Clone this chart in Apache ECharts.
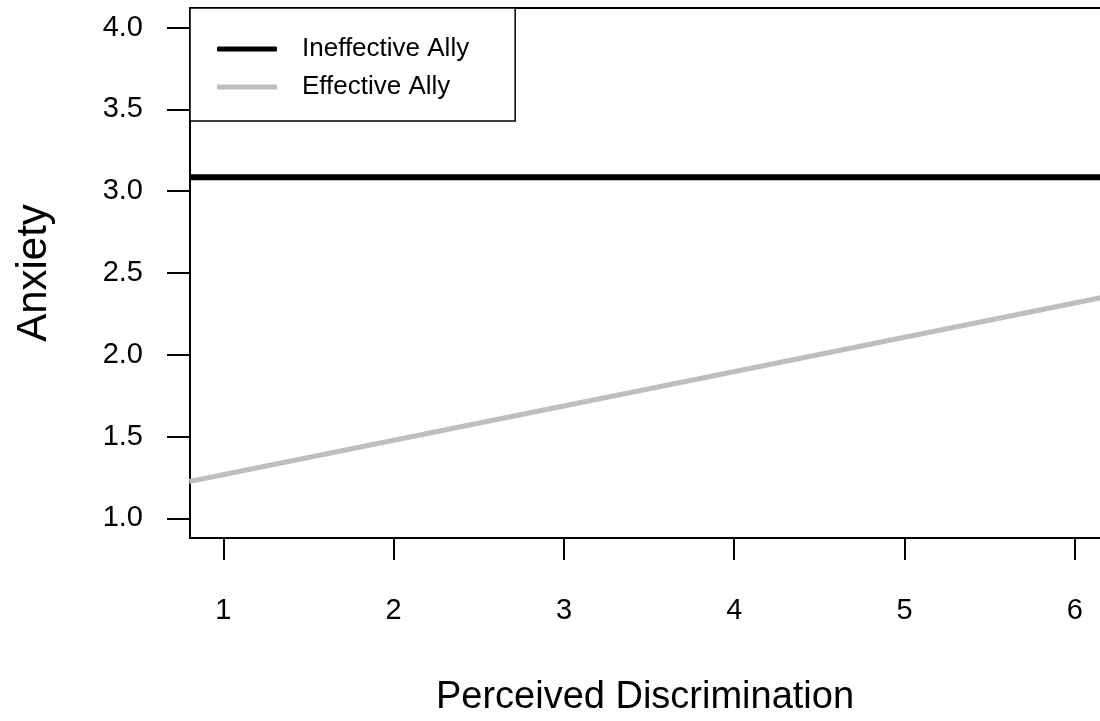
<!DOCTYPE html>
<html>
<head>
<meta charset="utf-8">
<script src="https://cdn.jsdelivr.net/npm/echarts@6/dist/echarts.min.js"></script>
<style>
  html, body { margin: 0; padding: 0; background: #fff; }
  #chart { width: 1100px; height: 721px; }
</style>
</head>
<body>
<div id="chart"></div>
<script>
// x 轴两端的取值（线条从左边框画到右边缘）
var xPoints = [0.8, 6.3];
var ineffectiveAlly = [3.085, 3.085];
var effectiveAlly = [1.225, 2.38];
var xTicks = [1, 2, 3, 4, 5, 6];
var yTicks = [1.0, 1.5, 2.0, 2.5, 3.0, 3.5, 4.0];

function pairUp(xs, ys) {
    var out = [];
    for (var i = 0; i < xs.length; i++) {
        out.push([xs[i], ys[i]]);
    }
    return out;
}

var myChart = echarts.init(document.getElementById('chart'));
var font = 'Liberation Sans, Arial, sans-serif';
var axisLineStyle = { color: '#000', width: 2 };

var option = {
    animation: false,
    backgroundColor: '#fff',
    grid: { left: 190, top: 8, bottom: 183, right: 0, show: false, outerBoundsMode: 'none' },
    legend: {
        orient: 'vertical',
        left: 190, top: 8,
        padding: [28, 46, 21, 27],
        borderColor: '#000', borderWidth: 1.5,
        backgroundColor: '#fff',
        itemWidth: 60, itemHeight: 5, itemGap: 12,
        icon: 'roundRect',
        textStyle: { fontFamily: font, fontSize: 26, lineHeight: 25, color: '#000', padding: [0, 0, 0, 20] },
        data: [
            { name: 'Ineffective Ally', itemStyle: { color: '#000' } },
            { name: 'Effective Ally', itemStyle: { color: '#bebebe' } }
        ]
    },
    xAxis: [
        {
            type: 'value',
            min: 0.804,
            max: 1 + (1100 - 223.3) / 170.3,
            name: 'Perceived Discrimination',
            nameLocation: 'middle',
            nameGap: 141,
            nameTextStyle: { fontFamily: font, fontSize: 38, color: '#000' },
            splitLine: { show: false },
            axisLine: { show: true, onZero: false, lineStyle: axisLineStyle },
            axisTick: { show: true, customValues: xTicks, length: 22, lineStyle: axisLineStyle },
            axisLabel: { customValues: xTicks, margin: 58, fontFamily: font, fontSize: 29, color: '#000' }
        },
        {
            // 上边框
            type: 'value',
            position: 'top',
            min: 0.804,
            max: 1 + (1100 - 223.3) / 170.3,
            splitLine: { show: false },
            axisLine: { show: true, onZero: false, lineStyle: axisLineStyle },
            axisTick: { show: false },
            axisLabel: { show: false }
        }
    ],
    yAxis: {
        type: 'value',
        min: 0.88,
        max: 4.12,
        name: 'Anxiety',
        nameLocation: 'middle',
        nameGap: 135,
        nameTextStyle: { fontFamily: font, fontSize: 42, color: '#000' },
        splitLine: { show: false },
        axisLine: { show: true, onZero: false, lineStyle: axisLineStyle },
        axisTick: { show: true, customValues: yTicks, length: 23, lineStyle: axisLineStyle },
        axisLabel: {
            customValues: yTicks, margin: 47, fontFamily: font, fontSize: 29, color: '#000',
            formatter: function (v) { return v.toFixed(1); }
        }
    },
    series: [
        {
            name: 'Ineffective Ally',
            type: 'line',
            symbol: 'none',
            color: '#000',
            lineStyle: { color: '#000', width: 6 },
            data: pairUp(xPoints, ineffectiveAlly)
        },
        {
            name: 'Effective Ally',
            type: 'line',
            symbol: 'none',
            color: '#bebebe',
            lineStyle: { color: '#bebebe', width: 5 },
            data: pairUp(xPoints, effectiveAlly)
        }
    ]
};

myChart.setOption(option);
</script>
</body>
</html>
